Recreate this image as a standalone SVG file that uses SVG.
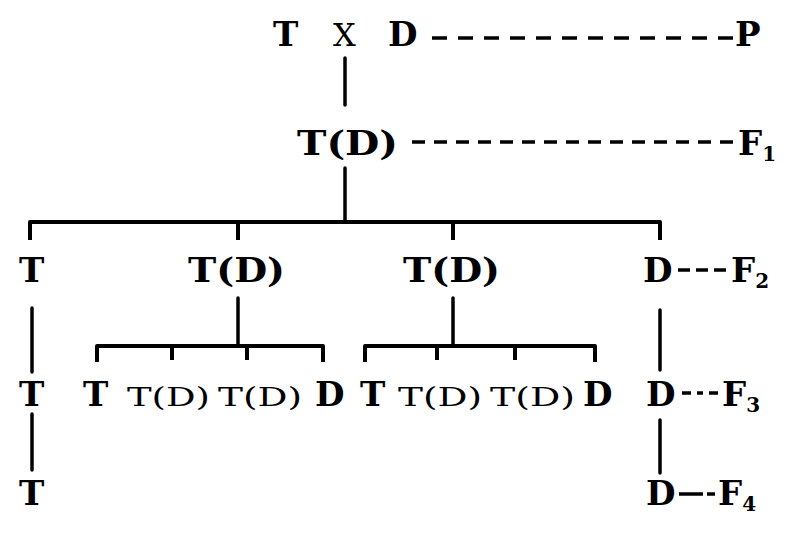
<svg xmlns="http://www.w3.org/2000/svg" width="796" height="536" viewBox="0 0 796 536">
<style>
.b{font-family:"DejaVu Serif","Liberation Serif",serif;font-weight:bold;font-size:34px;fill:#000}
.r{font-family:"DejaVu Serif","Liberation Serif",serif;font-weight:normal;font-size:26px;fill:#000}
.x{font-family:"DejaVu Serif","Liberation Serif",serif;font-weight:normal;font-size:32px;fill:#000}
.sub{font-size:20px}
.ln{stroke:#000;stroke-width:3.5;fill:none;stroke-linecap:round}
.bar{stroke:#000;stroke-width:4;fill:none;stroke-linejoin:round}
.dash{stroke:#000;stroke-width:3.5;fill:none}
</style>
<rect width="796" height="536" fill="#fff"/>
<g id="connectors">
<line class="dash" x1="432" y1="38" x2="735" y2="38" stroke-dasharray="15 11"/>
<line class="dash" x1="412" y1="142" x2="737" y2="142" stroke-dasharray="13 9"/>
<line class="ln" x1="345" y1="58" x2="345" y2="105"/>
<line class="ln" x1="345" y1="168" x2="345" y2="222"/>
<path class="bar" d="M30,240 V222 H660 V240 M238,222 V240 M453,222 V240"/>
<line class="ln" x1="238" y1="298" x2="238" y2="346"/>
<line class="ln" x1="453" y1="298" x2="453" y2="346"/>
<path class="bar" d="M97,362 V346 H323 V362 M172,346 V360 M247,346 V360"/>
<path class="bar" d="M365,362 V346 H595 V362 M437,346 V360 M515,346 V360"/>
<line class="ln" x1="32" y1="308" x2="32" y2="372"/>
<line class="ln" x1="32" y1="414" x2="32" y2="470"/>
<line class="ln" x1="660" y1="310" x2="660" y2="370"/>
<line class="ln" x1="660" y1="420" x2="660" y2="473"/>
<line class="dash" x1="678" y1="270" x2="726" y2="270" stroke-dasharray="12 6"/>
<line class="dash" x1="682" y1="393" x2="718" y2="393" stroke-dasharray="9 6 6 6 9"/>
<line class="dash" x1="679" y1="494" x2="703" y2="494"/>
<line class="dash" x1="707" y1="494" x2="715" y2="494"/>
</g>
<g id="P-T"><text class="b" x="273" y="46">T</text></g>
<g id="P-X"><text class="x" x="333" y="46">X</text></g>
<g id="P-D"><text class="b" x="388" y="46">D</text></g>
<g id="label-P"><text class="b" x="735" y="46">P</text></g>
<g id="F1-TD"><text class="b" x="297" y="155" textLength="101" lengthAdjust="spacingAndGlyphs">T(D)</text></g>
<g id="label-F1"><text class="b" x="738" y="155">F<tspan class="sub" dy="6">1</tspan></text></g>
<g id="F2-T"><text class="b" x="19" y="282">T</text></g>
<g id="F2-TD1"><text class="b" x="188" y="282" textLength="97" lengthAdjust="spacingAndGlyphs">T(D)</text></g>
<g id="F2-TD2"><text class="b" x="403" y="282" textLength="97" lengthAdjust="spacingAndGlyphs">T(D)</text></g>
<g id="F2-D"><text class="b" x="643" y="282">D</text></g>
<g id="label-F2"><text class="b" x="731" y="282">F<tspan class="sub" dy="6">2</tspan></text></g>
<g id="F3-T-left"><text class="b" x="19" y="406">T</text></g>
<g id="F3-a-T"><text class="b" x="83" y="406">T</text></g>
<g id="F3-a-TD1"><text class="r" x="127" y="406" textLength="83" lengthAdjust="spacingAndGlyphs">T(D)</text></g>
<g id="F3-a-TD2"><text class="r" x="218" y="406" textLength="84" lengthAdjust="spacingAndGlyphs">T(D)</text></g>
<g id="F3-a-D"><text class="b" x="315" y="406">D</text></g>
<g id="F3-b-T"><text class="b" x="360" y="406">T</text></g>
<g id="F3-b-TD1"><text class="r" x="398" y="406" textLength="84" lengthAdjust="spacingAndGlyphs">T(D)</text></g>
<g id="F3-b-TD2"><text class="r" x="490" y="406" textLength="85" lengthAdjust="spacingAndGlyphs">T(D)</text></g>
<g id="F3-b-D"><text class="b" x="583" y="406">D</text></g>
<g id="F3-D-right"><text class="b" x="646" y="406">D</text></g>
<g id="label-F3"><text class="b" x="722" y="406">F<tspan class="sub" dy="6">3</tspan></text></g>
<g id="F4-T"><text class="b" x="19" y="505">T</text></g>
<g id="F4-D"><text class="b" x="646" y="505">D</text></g>
<g id="label-F4"><text class="b" x="718" y="505">F<tspan class="sub" dy="6">4</tspan></text></g>
</svg>
